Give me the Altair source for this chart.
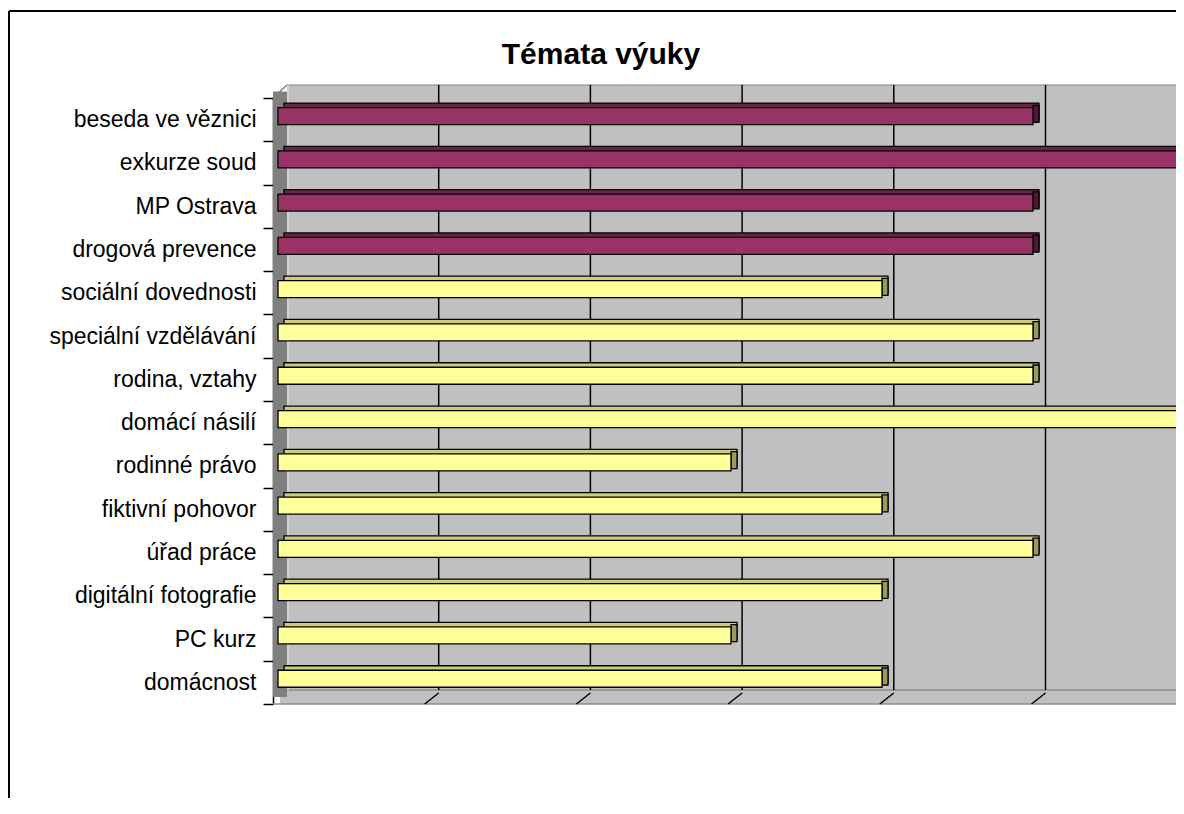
import altair as alt
import pandas as pd

# ---- data ----
categories = ["beseda ve věznici", "exkurze soud", "MP Ostrava", "drogová prevence",
              "sociální dovednosti", "speciální vzdělávání", "rodina, vztahy", "domácí násilí",
              "rodinné právo", "fiktivní pohovor", "úřad práce", "digitální fotografie",
              "PC kurz", "domácnost"]
values = [5, 6, 5, 5, 4, 5, 5, 6, 3, 4, 5, 4, 3, 4]
groups = ["mimo", "mimo", "mimo", "mimo", "škola", "škola", "škola", "škola",
          "škola", "škola", "škola", "škola", "škola", "škola"]
grid_steps = [1, 2, 3, 4, 5]
floor_steps = [1, 2, 3, 4, 5, 6]
title_text = ["Témata výuky"]

# ---- layout ----
W, H = 903, 606          # front plane of the plot
PAD_L, PAD_T = 265, 90
CANVAS_H = 790
DEPTH_X, DEPTH_Y = 14, 14  # wall depth
X_MAX = 6
UNIT_BAR = 151.0
UNIT_GRID = 151.7
BAR_H = 17
BAR_SHIFT = -3.6
FACE_DX, FACE_DY = 6, 4.5

bars = pd.DataFrame({"tema": categories, "pocet": values, "skupina": groups})
grid = pd.DataFrame({"krok": grid_steps})
floor = pd.DataFrame({"krok": floor_steps})
one = pd.DataFrame({"k": [0]})
title_df = pd.DataFrame({"t": title_text})

bar_x = alt.Scale(domain=[0, X_MAX], range=[5, 5 + X_MAX * UNIT_BAR], nice=False, zero=False)
grid_x = alt.Scale(domain=[0, X_MAX], range=[0, X_MAX * UNIT_GRID], nice=False, zero=False)
y_scale = alt.Scale(domain=categories, paddingInner=0, paddingOuter=0)

y_axis = alt.Axis(title=None, labelFont="Liberation Sans", labelFontSize=23, labelColor="black",
                  labelPadding=7, labelLimit=400, tickSize=10, tickColor="black", tickWidth=1.5,
                  domainColor="black", domainWidth=1.5, tickBand="extent", grid=False)
y_enc = alt.Y("tema:N", scale=y_scale, sort=categories, axis=y_axis)

def grp(rng):
    return alt.Color("skupina:N", scale=alt.Scale(domain=["mimo", "škola"], range=rng), legend=None)

# ---- decorations ----
frame_top = alt.Chart(one).mark_rule(color="black", strokeWidth=2).encode(
    x=alt.value(-264), x2=alt.value(W + 10), y=alt.value(-87))
frame_left = alt.Chart(one).mark_rule(color="black", strokeWidth=2).encode(
    x=alt.value(-264), y=alt.value(-87), y2=alt.value(CANVAS_H - PAD_T + 5))

floor_rect = alt.Chart(one).mark_rect(color="#c0c0c0").encode(
    x=alt.value(7), x2=alt.value(W + 10), y=alt.value(H - DEPTH_Y), y2=alt.value(H))
back_wall = alt.Chart(one).mark_rect(color="#c0c0c0").encode(
    x=alt.value(DEPTH_X), x2=alt.value(W + 10), y=alt.value(-13), y2=alt.value(H - DEPTH_Y))
back_top = alt.Chart(one).mark_rule(color="#a0a0a0", strokeWidth=1.5).encode(
    x=alt.value(DEPTH_X), x2=alt.value(W + 10), y=alt.value(-13))
back_bottom = alt.Chart(one).mark_rule(color="#8c8c8c", strokeWidth=1.5).encode(
    x=alt.value(DEPTH_X), x2=alt.value(W + 10), y=alt.value(H - DEPTH_Y))
floor_front = alt.Chart(one).mark_rule(color="#8c8c8c", strokeWidth=1.5).encode(
    x=alt.value(0), x2=alt.value(W + 10), y=alt.value(H))
side_wall = alt.Chart(one).mark_rect(color="#808080").encode(
    x=alt.value(0), x2=alt.value(DEPTH_X), y=alt.value(-6.5), y2=alt.value(H - 7))
side_edge = alt.Chart(one).mark_rule(color="#808080", strokeWidth=1.5).encode(
    x=alt.value(0), x2=alt.value(DEPTH_X), y=alt.value(0), y2=alt.value(-13))
back_left = alt.Chart(one).mark_rule(color="#d8d8d8", strokeWidth=1.5).encode(
    x=alt.value(DEPTH_X + 1), y=alt.value(-13), y2=alt.value(H - DEPTH_Y))

gridlines = alt.Chart(grid).mark_rule(color="black", strokeWidth=1.5, xOffset=DEPTH_X).encode(
    x=alt.X("krok:Q", scale=grid_x, axis=None),
    y=alt.value(-13), y2=alt.value(H - DEPTH_Y))
floor_ticks = alt.Chart(floor).mark_rule(color="black", strokeWidth=1.5, x2Offset=DEPTH_X).encode(
    x=alt.X("krok:Q", scale=grid_x, axis=None), x2="krok:Q",
    y=alt.value(H), y2=alt.value(H - 11))

# ---- 3D bars ----
top_face = alt.Chart(bars).mark_bar(
    height=BAR_H, yOffset=BAR_SHIFT - FACE_DY, xOffset=FACE_DX, x2Offset=FACE_DX,
    stroke="black", strokeWidth=1.3).encode(
    x=alt.X("pocet:Q", scale=bar_x, axis=None), y=y_enc,
    color=grp(["#6b2447", "#cccc7a"]))
right_face = alt.Chart(bars).mark_bar(
    height=BAR_H, yOffset=BAR_SHIFT - FACE_DY / 2, x2Offset=FACE_DX,
    stroke="black", strokeWidth=1.3).encode(
    x=alt.X("pocet:Q", scale=bar_x, axis=None), x2="pocet:Q", y=y_enc,
    color=grp(["#4d1a33", "#999960"]))
front_face = alt.Chart(bars).mark_bar(
    height=BAR_H, yOffset=BAR_SHIFT, stroke="black", strokeWidth=1.3).encode(
    x=alt.X("pocet:Q", scale=bar_x, axis=None), y=y_enc,
    color=grp(["#993366", "#ffff99"]))

title = alt.Chart(title_df).mark_text(
    font="Liberation Sans", fontSize=30, fontWeight="bold", align="center",
    baseline="alphabetic", color="black").encode(
    x=alt.value(601 - 273), y=alt.value(64 - 98), text="t:N")

chart = alt.layer(
    frame_top, frame_left, floor_rect, back_wall, back_top, back_bottom, floor_front,
    side_wall, side_edge, back_left, gridlines, floor_ticks,
    top_face, right_face, front_face, title
).resolve_scale(x="independent", color="independent").properties(
    width=W, height=H,
    padding={"left": PAD_L, "top": PAD_T, "right": 0, "bottom": CANVAS_H - PAD_T - H},
    autosize=alt.AutoSizeParams(type="none"),
).configure_view(stroke=None)

chart.save("out.html", embed_options={"renderer": "svg", "actions": False})
